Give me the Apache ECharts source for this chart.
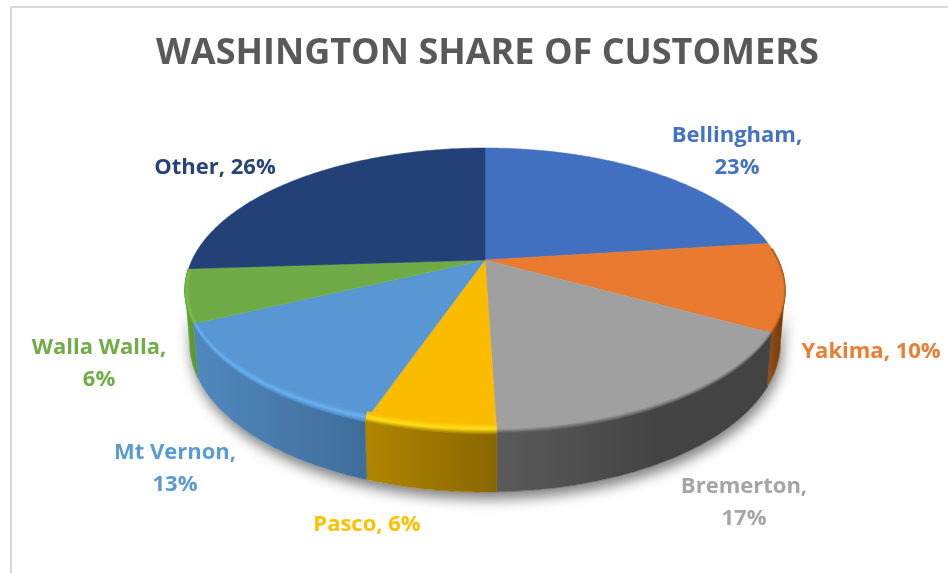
<!DOCTYPE html>
<html>
<head>
<meta charset="utf-8">
<style>html,body{margin:0;padding:0;background:#fff}#c{width:948px;height:573px}</style>
<script src="https://cdn.jsdelivr.net/npm/echarts@6/dist/echarts.min.js"></script>
</head>
<body>
<div id="c"></div>
<script>
const titleText = 'WASHINGTON SHARE OF CUSTOMERS';
const categories = ['Bellingham','Yakima','Bremerton','Pasco','Mt Vernon','Walla Walla','Other'];
const shares = [23, 10, 16.5, 5.8, 12.7, 6, 26];
const labelRows = ['Bellingham,\n23%','Yakima, 10%','Bremerton,\n17%','Pasco, 6%','Mt Vernon,\n13%','Walla Walla,\n6%','Other, 26%'];

// styling and layout (not data)
const faceColors = ['#4170c1','#e97a2f','#a0a0a0','#fbbc00','#5897d4','#6fab47','#234176'];
const labelColors = ['#4472c4','#ed7d31','#a5a5a5','#ffc000','#5b9bd5','#70ad47','#264478'];
const wallColors = [['#2f5597','#2f5597'],['#9a5218','#6b3808'],['#5a5a5a','#434343'],['#b08600','#8a6600'],['#5088bf','#3f6d99'],['#62a03a','#5a9434'],['#1a3058','#1a3058']];
const wallPlateau = [1, 1, 0.6, 1, 1, 1, 1];
const rimColors = ['#4170c1','#e97a2f','#a0a0a0','#ffe01a','#68b2f4','#7cc24c','#234176'];
const labelCenters = [[737,152],[871,352],[744,503],[367,525],[175,469],[99,364],[215,168]];
const cx = 485, cy = 260, A = 293, B = 136, K = 0.214, ELLIPSE_MID_Y = 290;
const total = shares.reduce((a,b)=>a+b,0);
const frontStart = Math.PI/2 + Math.asin(K), frontEnd = 2*Math.PI - frontStart;
const BEVEL_STEPS = 12;

function topPt(t){
  const d = 1 + K*Math.cos(t);
  return [cx + A*Math.sin(t)/d, cy - B*Math.cos(t)/d];
}
function lowPt(t){
  const p = topPt(t);
  return [cx + (p[0]-cx)*0.985, p[1] + 50 - 9*Math.cos(t)];
}
function bevelPt(t, f){ // f=1 outer rim, f=0 inner face edge
  const p = topPt(t), u = 1-f;
  return [cx + (p[0]-cx)*(1-0.015*u), p[1] - (p[1]-ELLIPSE_MID_Y)*0.07*u];
}
function arc(f, a, b){
  const pts = [], n = Math.max(2, Math.ceil(Math.abs(b-a)/0.01));
  for(let i=0;i<=n;i++) pts.push(f(a+(b-a)*i/n));
  return pts;
}
function range(i){
  let s = 0;
  for(let j=0;j<i;j++) s += shares[j];
  return [s/total*2*Math.PI, (s+shares[i])/total*2*Math.PI];
}
function clampRange(i, lo, hi){
  const r = range(i), a = Math.max(r[0],lo), b = Math.min(r[1],hi);
  return b > a ? [a,b] : null;
}
const seriesData = categories.map((c,i)=>({name:c,value:shares[i]}));

function renderShadow(params, api){
  if(params.dataIndex !== 0) return {type:'group',children:[]};
  const pts = arc(lowPt, frontStart, frontEnd).concat(arc(topPt, frontEnd, frontStart));
  return {type:'polygon',silent:true,shape:{points:pts},
    style:{fill:'#ffffff',shadowBlur:13,shadowOffsetX:2,shadowOffsetY:7,shadowColor:'rgba(0,0,0,0.5)'}};
}
function renderWall(params, api){
  const i = params.dataIndex, r = clampRange(i,frontStart,frontEnd);
  if(!r) return {type:'group',children:[]};
  const a = arc(topPt,r[0],r[1]), b = arc(lowPt,r[1],r[0]), pts = a.concat(b);
  const xs = pts.map(p=>p[0]), x0 = Math.min(...xs), x1 = Math.max(...xs);
  const g = new echarts.graphic.LinearGradient(x0,0,x1,0,[{offset:0,color:wallColors[i][0]},{offset:wallPlateau[i],color:wallColors[i][1]},{offset:1,color:wallColors[i][1]}],true);
  return {type:'polygon',silent:true,shape:{points:pts},style:{fill:g,stroke:g,lineWidth:0.5}};
}
function renderTop(params, api){
  const i = params.dataIndex, r = range(i);
  const pts = [[cx,cy]].concat(arc(topPt,r[0],r[1]));
  return {type:'polygon',silent:true,shape:{points:pts},style:{fill:faceColors[i],stroke:faceColors[i],lineWidth:0.5}};
}
function bevelColor(i, f){
  const face = faceColors[i], hi = rimColors[i], dark = wallColors[i][0];
  if(f < 0.55) return echarts.color.lerp(f/0.55,[face,hi]);
  return echarts.color.lerp((f-0.55)/0.45,[hi,dark]);
}
function renderBevel(params, api){
  const i = params.dataIndex, r = clampRange(i,frontStart-0.3,frontEnd+0.15);
  const children = [];
  if(r){
    for(let s=BEVEL_STEPS;s>=0;s--){
      const f = s/BEVEL_STEPS;
      const pts = arc(t=>bevelPt(t,f),r[0],r[1]);
      children.push({type:'polyline',silent:true,shape:{points:pts},style:{fill:null,stroke:bevelColor(i,f),lineWidth:1.6,lineCap:'butt'}});
    }
  }
  return {type:'group',children:children};
}
function renderLabel(params, api){
  const i = params.dataIndex;
  return {type:'text',silent:true,x:labelCenters[i][0],y:labelCenters[i][1],
    style:{text:labelRows[i],fill:labelColors[i],font:'bold 22px "Open Sans"',align:'center',verticalAlign:'middle',lineHeight:32}};
}
const chart = echarts.init(document.getElementById('c'),null,{renderer:'canvas'});
chart.setOption({
  animation:false,
  backgroundColor:'#ffffff',
  title:{text:titleText,left:151,top:31,textStyle:{color:'#595959',fontFamily:'Open Sans',fontWeight:'bold',fontSize:36}},
  graphic:[
    {type:'polyline',silent:true,z:0,shape:{points:[[948,7],[11,7],[11,573]]},style:{fill:null,stroke:'#d9d9d9',lineWidth:2}}
  ],
  series:[
    {type:'custom',coordinateSystem:'none',z:1,data:seriesData,renderItem:renderShadow},
    {type:'custom',coordinateSystem:'none',z:2,data:seriesData,renderItem:renderWall},
    {type:'custom',coordinateSystem:'none',z:3,data:seriesData,renderItem:renderTop},
    {type:'custom',coordinateSystem:'none',z:4,data:seriesData,renderItem:renderBevel},
    {type:'custom',coordinateSystem:'none',z:5,data:seriesData,renderItem:renderLabel}
  ]
});
</script>
</body>
</html>
